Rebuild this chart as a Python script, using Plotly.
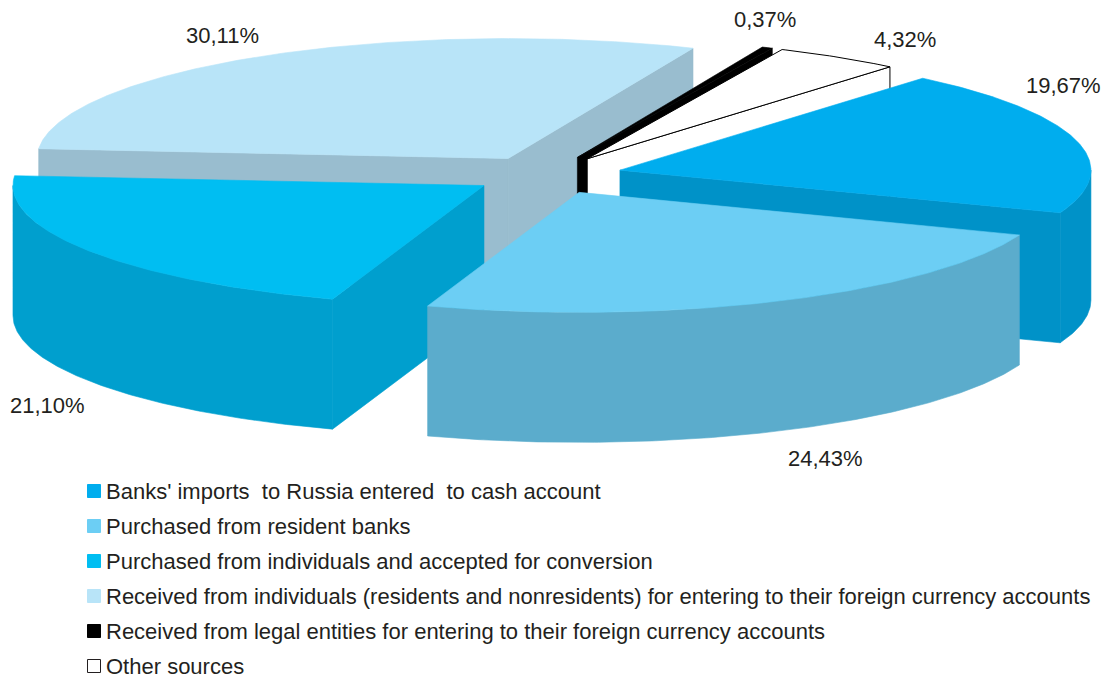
import math
import plotly.graph_objects as go

# ---- data -------------------------------------------------------------
categories = [
    "Banks' imports \u00a0to Russia entered \u00a0to cash account",
    "Purchased from resident banks",
    "Purchased from individuals and accepted for conversion",
    "Received from individuals (residents and nonresidents) for entering to their foreign currency accounts",
    "Received from legal entities for entering to their foreign currency accounts",
    "Other sources",
]
shares = [19.67, 24.43, 21.10, 30.11, 0.37, 4.32]

# ---- styling ----------------------------------------------------------
top_colors = ["#00ADEE", "#6CCEF4", "#00BEF2", "#B8E4F8", "#000000", "#FFFFFF"]
side_colors = ["#0092C8", "#5BACCC", "#009FCE", "#99BDCF", "#000000", "#FFFFFF"]
edge_colors = [None, None, None, None, None, "#000000"]

# label anchor points (pixels) for the percentage captions
label_pos = [(1063, 85), (825, 458), (47, 405), (222, 35), (765, 19), (905, 39)]

W, H = 1110, 679
CX, CY = 547, 175          # centre of the top ellipse
RX, RY = 471, 120          # ellipse radii
DEPTH = 130                # pie thickness
EXPLODE = 0.16             # slice pull-out, as fraction of radius
START = 40.0               # first slice starts at this angle (deg, clockwise from 12 o'clock)
FONT = "Liberation Sans, Arial, Helvetica, sans-serif"
TEXT = "#231F20"
FONT_SIZE = 22


def to_screen(u, v, drop=0.0):
    return CX + RX * u, CY - RY * v + drop


def rim(off, deg):
    t = math.radians(deg)
    return off[0] + math.sin(t), off[1] + math.cos(t)


def arc(off, a0, a1, step=0.5):
    n = max(2, int(abs(a1 - a0) / step) + 1)
    return [rim(off, a0 + (a1 - a0) * k / (n - 1)) for k in range(n)]


total = sum(shares)
slices = []
acc = START
for i, s in enumerate(shares):
    a0 = acc
    a1 = acc + 360.0 * s / total
    acc = a1
    mid = math.radians((a0 + a1) / 2)
    off = (EXPLODE * math.sin(mid), EXPLODE * math.cos(mid))
    slices.append(dict(i=i, a0=a0, a1=a1, off=off))

# ---- visible side faces (vertical surfaces) ---------------------------
faces = []
for sl in slices:
    off, a0, a1, i = sl["off"], sl["a0"], sl["a1"], sl["i"]
    if math.sin(math.radians(a0)) < 0:
        faces.append(dict(i=i, pts=[off, rim(off, a0)]))
    if math.sin(math.radians(a1)) > 0:
        faces.append(dict(i=i, pts=[off, rim(off, a1)]))
    for k in range(-1, 3):
        lo = max(a0, 90 + 360 * k)
        hi = min(a1, 270 + 360 * k)
        if hi - lo > 1e-6:
            faces.append(dict(i=i, pts=arc(off, lo, hi)))


def v_at(pts, u):
    for (u1, v1), (u2, v2) in zip(pts[:-1], pts[1:]):
        if min(u1, u2) - 1e-9 <= u <= max(u1, u2) + 1e-9:
            if abs(u2 - u1) < 1e-12:
                return min(v1, v2)
            return v1 + (v2 - v1) * (u - u1) / (u2 - u1)
    return None


def in_front(a, b):
    """True when face a hides part of face b."""
    ua = [p[0] for p in a["pts"]]
    ub = [p[0] for p in b["pts"]]
    lo, hi = max(min(ua), min(ub)), min(max(ua), max(ub))
    if hi - lo < 1e-6:
        return False
    um = (lo + hi) / 2
    va, vb = v_at(a["pts"], um), v_at(b["pts"], um)
    if va is None or vb is None:
        return False
    return va < vb


# back-to-front ordering: a face is drawn once nothing left behind it remains
order, remaining = [], list(range(len(faces)))
while remaining:
    for idx in remaining:
        blocked = any(in_front(faces[idx], faces[o]) for o in remaining if o != idx)
        if not blocked:
            order.append(idx)
            remaining.remove(idx)
            break
    else:
        order.append(remaining.pop(0))

fig = go.Figure()


def add_poly(xs, ys, fill, edge):
    fig.add_trace(go.Scatter(
        x=xs, y=ys, mode="lines", fill="toself", fillcolor=fill,
        line=dict(color=edge if edge else fill, width=1 if edge else 0.6),
        hoverinfo="skip", showlegend=False,
    ))


for idx in order:
    f = faces[idx]
    i = f["i"]
    top = [to_screen(u, v) for u, v in f["pts"]]
    bot = [to_screen(u, v, DEPTH) for u, v in reversed(f["pts"])]
    poly = top + bot + [top[0]]
    add_poly([p[0] for p in poly], [p[1] for p in poly], side_colors[i], edge_colors[i])

# top surfaces
for sl in slices:
    i, off = sl["i"], sl["off"]
    pts = [off] + arc(off, sl["a0"], sl["a1"]) + [off]
    scr = [to_screen(u, v) for u, v in pts]
    add_poly([p[0] for p in scr], [p[1] for p in scr], top_colors[i], edge_colors[i])

# percentage captions
for i, s in enumerate(shares):
    x, y = label_pos[i]
    fig.add_annotation(x=x, y=y, xref="x", yref="y", showarrow=False,
                       text=f"{s:.2f}".replace(".", ",") + "%",
                       font=dict(family=FONT, size=FONT_SIZE, color=TEXT))

# legend
LEG_X, LEG_Y0, LEG_DY, SQ = 87.5, 491, 35, 13
for i, name in enumerate(categories):
    yc = LEG_Y0 + LEG_DY * i
    fig.add_shape(type="rect", xref="x", yref="y",
                  x0=LEG_X, x1=LEG_X + SQ, y0=yc - SQ / 2, y1=yc + SQ / 2,
                  fillcolor=top_colors[i],
                  line=dict(color="#231F20" if edge_colors[i] else top_colors[i], width=1))
    fig.add_annotation(x=104, y=yc, xref="x", yref="y", showarrow=False,
                       xanchor="left", yanchor="middle", text=name,
                       font=dict(family=FONT, size=FONT_SIZE, color=TEXT))

fig.update_layout(
    width=W, height=H, margin=dict(l=0, r=0, t=0, b=0),
    paper_bgcolor="white", plot_bgcolor="white", showlegend=False,
    xaxis=dict(range=[0, W], visible=False, fixedrange=True),
    yaxis=dict(range=[H, 0], visible=False, fixedrange=True),
)

fig.write_html("out.html")
